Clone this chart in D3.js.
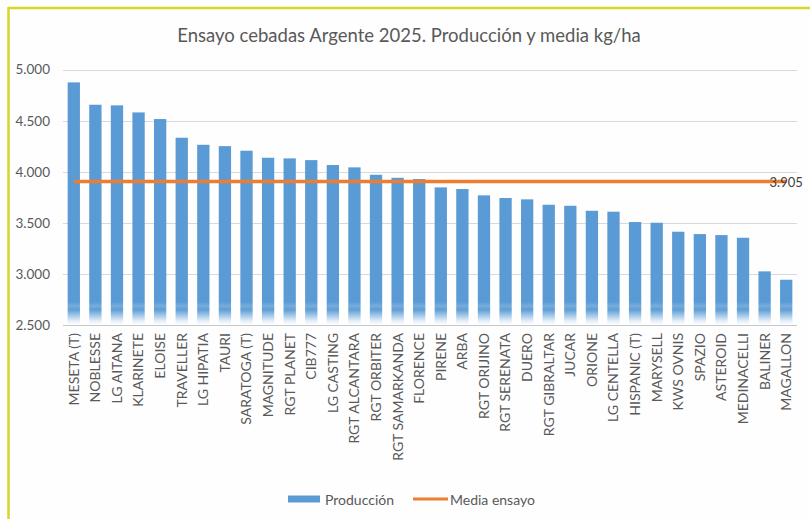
<!DOCTYPE html>
<html>
<head>
<meta charset="utf-8">
<script src="https://cdn.jsdelivr.net/npm/d3@7"></script>
<style>
  body { margin: 0; background: #fff; }
  svg { display: block; font-family: Lato, "Open Sans", sans-serif; }
</style>
</head>
<body>
<div id="vis"></div>
<script>
// variedades y producción (kg/ha)
const varieties = ['MESETA (T)', 'NOBLESSE', 'LG AITANA', 'KLARINETE', 'ELOISE', 'TRAVELLER',
  'LG HIPATIA', 'TAURI', 'SARATOGA (T)', 'MAGNITUDE', 'RGT PLANET', 'CIB777', 'LG CASTING',
  'RGT ALCANTARA', 'RGT ORBITER', 'RGT SAMARKANDA', 'FLORENCE', 'PIRENE', 'ARBA', 'RGT ORIJINO',
  'RGT SERENATA', 'DUERO', 'RGT GIBRALTAR', 'JUCAR', 'ORIONE', 'LG CENTELLA', 'HISPANIC (T)',
  'MARYSELL', 'KWS OVNIS', 'SPAZIO', 'ASTEROID', 'MEDINACELLI', 'BALINER', 'MAGALLON'];
const production = [4875, 4656, 4650, 4581, 4516, 4333, 4264, 4251, 4206, 4137, 4131, 4114, 4066,
  4043, 3971, 3941, 3929, 3847, 3831, 3769, 3743, 3730, 3677, 3667, 3618, 3609, 3508, 3501,
  3413, 3390, 3380, 3354, 3025, 2943];
const mean = 3905;
const yTicks = [2500, 3000, 3500, 4000, 4500, 5000];
const legendLabels = ['Producción', 'Media ensayo'];

const W = 810, H = 519;
const plot = {left: 63, right: 797, top: 69.6, bottom: 325};
const fmt = d3.format(',');
const es = v => fmt(v).replace(/,/g, '.');

const svg = d3.select('#vis').append('svg')
  .attr('width', W).attr('height', H);

// yellow frame (top + left)
svg.append('rect').attr('x', 0).attr('y', 0).attr('width', W).attr('height', H).attr('fill', '#fefefe');
svg.append('line').attr('x1', 8).attr('x2', W).attr('y1', 8).attr('y2', 8)
  .attr('stroke', '#d6d62a').attr('stroke-width', 2.5);
svg.append('line').attr('x1', 8.5).attr('x2', 8.5).attr('y1', 7).attr('y2', H)
  .attr('stroke', '#d6d62a').attr('stroke-width', 2.5);

// bottom fade on the bars
const defs = svg.append('defs');
const grad = defs.append('linearGradient').attr('id', 'barFade')
  .attr('gradientUnits', 'userSpaceOnUse')
  .attr('x1', 0).attr('x2', 0).attr('y1', plot.top).attr('y2', plot.bottom);
const fadeStart = (302 - plot.top) / (plot.bottom - plot.top);
grad.append('stop').attr('offset', 0).attr('stop-color', '#5b9bd5');
grad.append('stop').attr('offset', fadeStart).attr('stop-color', '#5b9bd5');
grad.append('stop').attr('offset', fadeStart + 0.015).attr('stop-color', '#77acdc');
grad.append('stop').attr('offset', fadeStart + 0.03).attr('stop-color', '#5f9ed6');
grad.append('stop').attr('offset', 0.985).attr('stop-color', '#e6f0f9');
grad.append('stop').attr('offset', 1).attr('stop-color', '#ffffff');

const x = d3.scaleBand().domain(varieties).range([plot.left, plot.right]).paddingInner(0.43).paddingOuter(0.215);
const y = d3.scaleLinear().domain([2500, 5000]).range([plot.bottom, plot.top]);

// title
svg.append('text')
  .attr('x', (175 + 643) / 2).attr('y', 42)
  .attr('text-anchor', 'middle')
  .attr('fill', '#595959')
  .style('font-size', '18.5px')
  .text('Ensayo cebadas Argente 2025. Producción y media kg/ha');

// gridlines
svg.append('g')
  .selectAll('line').data(yTicks).join('line')
  .attr('x1', plot.left).attr('x2', plot.right)
  .attr('y1', d => Math.round(y(d)) + 0.5).attr('y2', d => Math.round(y(d)) + 0.5)
  .attr('stroke', d => d === 2500 ? '#c8c8c8' : '#d9d9d9')
  .attr('stroke-width', 1.2);

// y axis labels
const yAxis = d3.axisLeft(y).tickValues(yTicks).tickFormat(d => es(d)).tickSize(0).tickPadding(0);
svg.append('g')
  .attr('transform', `translate(50,0)`)
  .call(yAxis)
  .call(g => g.select('.domain').remove())
  .call(g => g.selectAll('text').attr('fill', '#595959').style('font-size', '13.5px').style('font-family', 'Lato, sans-serif'));

// bars
svg.append('g')
  .selectAll('rect').data(varieties).join('rect')
  .attr('x', d => x(d))
  .attr('width', x.bandwidth())
  .attr('y', (d, i) => y(production[i]))
  .attr('height', (d, i) => y(2500) - y(production[i]))
  .attr('fill', 'url(#barFade)');

// x axis labels
const xAxis = d3.axisBottom(x).tickSize(0).tickPadding(0);
svg.append('g')
  .attr('transform', `translate(0,${plot.bottom})`)
  .call(xAxis)
  .call(g => g.select('.domain').remove())
  .call(g => g.selectAll('text')
    .attr('fill', '#595959')
    .style('font-size', '14px')
    .style('font-family', 'Lato, sans-serif')
    .attr('text-anchor', 'end')
    .attr('dy', '0.35em')
    .attr('transform', 'translate(0,8) rotate(-90)')
    .attr('x', 0).attr('y', 0));

// media line
const first = x(varieties[0]) + x.bandwidth() / 2;
const last = x(varieties[varieties.length - 1]) + x.bandwidth() / 2;
svg.append('line')
  .attr('x1', first).attr('x2', last)
  .attr('y1', y(mean)).attr('y2', y(mean))
  .attr('stroke', '#ed7d31').attr('stroke-width', 3.5);
svg.append('text')
  .attr('x', last).attr('y', y(mean) + 5.5)
  .attr('text-anchor', 'middle')
  .attr('fill', '#404040')
  .style('font-size', '13px')
  .text(es(mean));

// legend
const leg = svg.append('g');
leg.append('rect').attr('x', 288).attr('y', 495.5).attr('width', 32).attr('height', 7).attr('fill', '#5b9bd5');
leg.append('text').attr('x', 325).attr('y', 504.5).attr('fill', '#595959').style('font-size', '14px').text(legendLabels[0]);
leg.append('line').attr('x1', 413).attr('x2', 448).attr('y1', 499).attr('y2', 499)
  .attr('stroke', '#ed7d31').attr('stroke-width', 3);
leg.append('text').attr('x', 450).attr('y', 504.5).attr('fill', '#595959').style('font-size', '14px').text(legendLabels[1]);
</script>
</body>
</html>
